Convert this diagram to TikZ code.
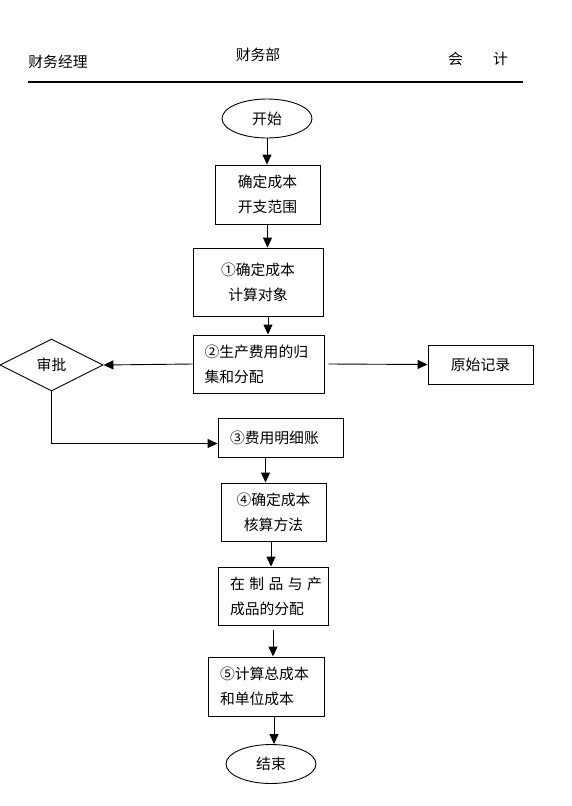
\documentclass[tikz,border=0pt]{standalone}
\usepackage{fontspec}
\setmainfont{Noto Sans CJK SC}
\usetikzlibrary{arrows.meta,shapes.geometric,calc}
\hfuzz=20pt
\tikzset{
  every node/.style={font=\fontsize{14.8}{25}\selectfont, inner sep=0pt},
  box/.style={draw, line width=0.9pt, rectangle},
  oval/.style={draw, line width=0.9pt, ellipse, minimum width=90pt, minimum height=39pt},
  dia/.style={draw, line width=0.9pt, diamond, minimum width=103pt, minimum height=52pt},
  arr/.style={line width=0.9pt, -{Triangle[length=10pt,width=9pt]}},
  ln/.style={line width=0.9pt}
}
\begin{document}
\begin{tikzpicture}[x=1pt,y=-1pt]
\useasboundingbox (0,0) rectangle (571,806);
% header
\node (h1) at (58,62) {财务经理};
\node (h2) at (258,55) {财务部};
\node (h3) at (478,59) {会\hspace{30pt}计};
\coordinate (l1) at (28,82);
\coordinate (l2) at (523,82);
\draw[line width=1.2pt] (l1) -- (l2);
% nodes
\node[oval] (start) at (267,118.5) {开始};
\node[box, minimum width=105pt, minimum height=59pt, align=center] (b1) at (267.5,194.5) {确定成本\\开支范围};
\node[box, minimum width=130pt, minimum height=68pt, align=center] (b2) at (258,282) {①确定成本\\计算对象};
\node[box, minimum width=131pt, minimum height=58pt] (b3) at (258.5,364)
  {\parbox{108pt}{\raggedright ②生产费用的归\\集和分配}};
\node[dia] (d) at (51.5,365) {审批};
\node[box, minimum width=105pt, minimum height=39pt] (rec) at (480.5,364.5) {原始记录};
\node[box, minimum width=125pt, minimum height=39pt] (b4) at (280.5,437.5)
  {\parbox{101pt}{\raggedright ③费用明细账}};
\node[box, minimum width=110pt, minimum height=58pt] (b6) at (273,596)
  {\parbox{86pt}{\raggedright \mbox{在\hspace{4.5pt}制\hspace{4.5pt}品\hspace{4.5pt}与\hspace{4.5pt}产}\\成品的分配}};
\node[box, minimum width=105pt, minimum height=58pt, align=center] (b5) at (273.5,512) {④确定成本\\核算方法};
\node[box, minimum width=116pt, minimum height=59pt] (b7) at (266,686.5)
  {\parbox{92pt}{\raggedright ⑤计算总成本\\和单位成本}};
\node[oval] (end) at (271,764) {结束};
% connectors
\draw[arr] (start.south) -- (start.south |- b1.north);
\draw[arr] (b1.south) -- (b1.south |- b2.north);
\draw[arr] ([xshift=10pt]b2.south) -- ([xshift=10pt]b2.south |- b3.north);
\draw[arr] (b3.west) -- (d.east);
\draw[arr] ([xshift=4pt]b3.east) -- (rec.west);
\draw[arr] (d.south) |- ([yshift=-6pt]b4.west);
\draw[arr] ([xshift=-15pt]b4.south) -- ([xshift=-15pt]b4.south |- b5.north);
\draw[arr] ([xshift=-2.5pt]b5.south) -- ([xshift=-2.5pt]b5.south |- b6.north);
\draw[arr] ([yshift=-5pt]b6.south) -- (b6.south |- b7.north);
\draw[arr] ([xshift=8pt]b7.south) -- ([xshift=8pt]b7.south |- end.north);
\end{tikzpicture}
\end{document}
